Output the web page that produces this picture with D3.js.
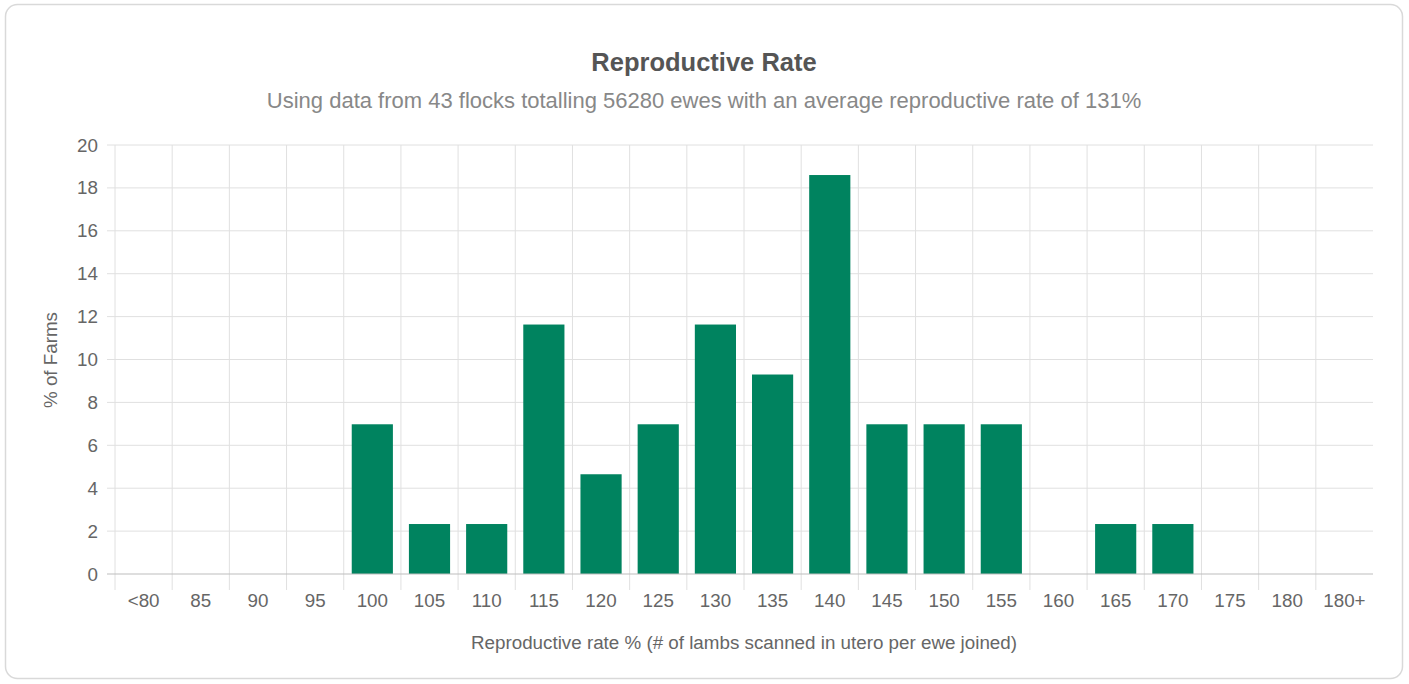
<!DOCTYPE html>
<html>
<head>
<meta charset="utf-8">
<script src="https://cdn.jsdelivr.net/npm/d3@7"></script>
<style>
  html, body { margin: 0; padding: 0; background: #fff; }
  svg { display: block; font-family: "Liberation Sans", Arial, Helvetica, sans-serif; }
</style>
</head>
<body>
<svg id="chart" width="1409" height="684"></svg>
<script>
// Reproductive rate bands and share of farms (%) in each band
const categories = ["<80", "85", "90", "95", "100", "105", "110", "115", "120", "125", "130",
                    "135", "140", "145", "150", "155", "160", "165", "170", "175", "180", "180+"];
const farmPercent = [0, 0, 0, 0, 6.98, 2.33, 2.33, 11.63, 4.65, 6.98, 11.63,
                     9.30, 18.60, 6.98, 6.98, 6.98, 0, 2.33, 2.33, 0, 0, 0];
const yTicks = [0, 2, 4, 6, 8, 10, 12, 14, 16, 18, 20];

const titleText = "Reproductive Rate";
const subtitleText = "Using data from 43 flocks totalling 56280 ewes with an average reproductive rate of 131%";
const xTitle = "Reproductive rate % (# of lambs scanned in utero per ewe joined)";
const yTitle = "% of Farms";

const svg = d3.select("#chart");
const W = 1409, H = 684;
const m = { left: 115, right: 1373, top: 145, bottom: 574 };
const labelFont = "18.8px";

// card frame
svg.append("rect")
  .attr("x", 5.5).attr("y", 4.5)
  .attr("width", W - 12).attr("height", H - 10)
  .attr("rx", 12).attr("ry", 12)
  .attr("fill", "#fff").attr("stroke", "#d9d9d9").attr("stroke-width", 1.5);

const x = d3.scaleBand().domain(categories).range([m.left, m.right]).paddingInner(0.28).paddingOuter(0.14);
const y = d3.scaleLinear().domain([0, 20]).range([m.bottom, m.top]);

// horizontal grid
svg.append("g").selectAll("line").data(yTicks.filter(d => d > 0)).join("line")
  .attr("x1", m.left - 8).attr("x2", m.right)
  .attr("y1", d => y(d)).attr("y2", d => y(d))
  .attr("stroke", "#e0e0e0").attr("stroke-width", 1);

// vertical grid at band boundaries
const step = x.step();
const bounds = d3.range(categories.length).map(i => m.left + i * step);
svg.append("g").selectAll("line").data(bounds).join("line")
  .attr("x1", d => d).attr("x2", d => d)
  .attr("y1", m.top).attr("y2", m.bottom + 16)
  .attr("stroke", "#e0e0e0").attr("stroke-width", 1);

// bars
svg.append("g").selectAll("rect").data(categories.map((c, i) => ({ c, v: farmPercent[i] })).filter(d => d.v > 0))
  .join("rect")
  .attr("x", d => x(d.c))
  .attr("width", x.bandwidth())
  .attr("y", d => y(d.v))
  .attr("height", d => y(0) - y(d.v))
  .attr("fill", "#00835f");

// baseline
svg.append("line")
  .attr("x1", m.left - 8).attr("x2", m.right)
  .attr("y1", y(0)).attr("y2", y(0))
  .attr("stroke", "#bdbdbd").attr("stroke-width", 1.2);

// y axis labels
const yAxis = d3.axisLeft(y).tickValues(yTicks).tickSize(0).tickPadding(17);
const gy = svg.append("g").attr("transform", `translate(${m.left},0)`).call(yAxis);
gy.select(".domain").remove();
gy.selectAll("text").attr("fill", "#666").style("font-size", labelFont)
  .style("font-family", "'Liberation Sans', Arial, sans-serif");

// x axis labels
const xAxis = d3.axisBottom(x).tickSize(0).tickPadding(20);
const gx = svg.append("g").attr("transform", `translate(0,${m.bottom})`).call(xAxis);
gx.select(".domain").remove();
gx.selectAll("text").attr("fill", "#666").style("font-size", labelFont)
  .style("font-family", "'Liberation Sans', Arial, sans-serif");

// titles
svg.append("text").attr("x", 704).attr("y", 71).attr("text-anchor", "middle")
  .attr("fill", "#555").style("font-size", "25.5px").style("font-weight", "bold").text(titleText);
svg.append("text").attr("x", 704).attr("y", 108).attr("text-anchor", "middle")
  .attr("fill", "#888").style("font-size", "22px").text(subtitleText);

svg.append("text").attr("x", 744).attr("y", 649).attr("text-anchor", "middle")
  .attr("fill", "#666").style("font-size", labelFont).text(xTitle);

svg.append("text")
  .attr("transform", `translate(57,360) rotate(-90)`)
  .attr("text-anchor", "middle")
  .attr("fill", "#666").style("font-size", labelFont).text(yTitle);
</script>
</body>
</html>
